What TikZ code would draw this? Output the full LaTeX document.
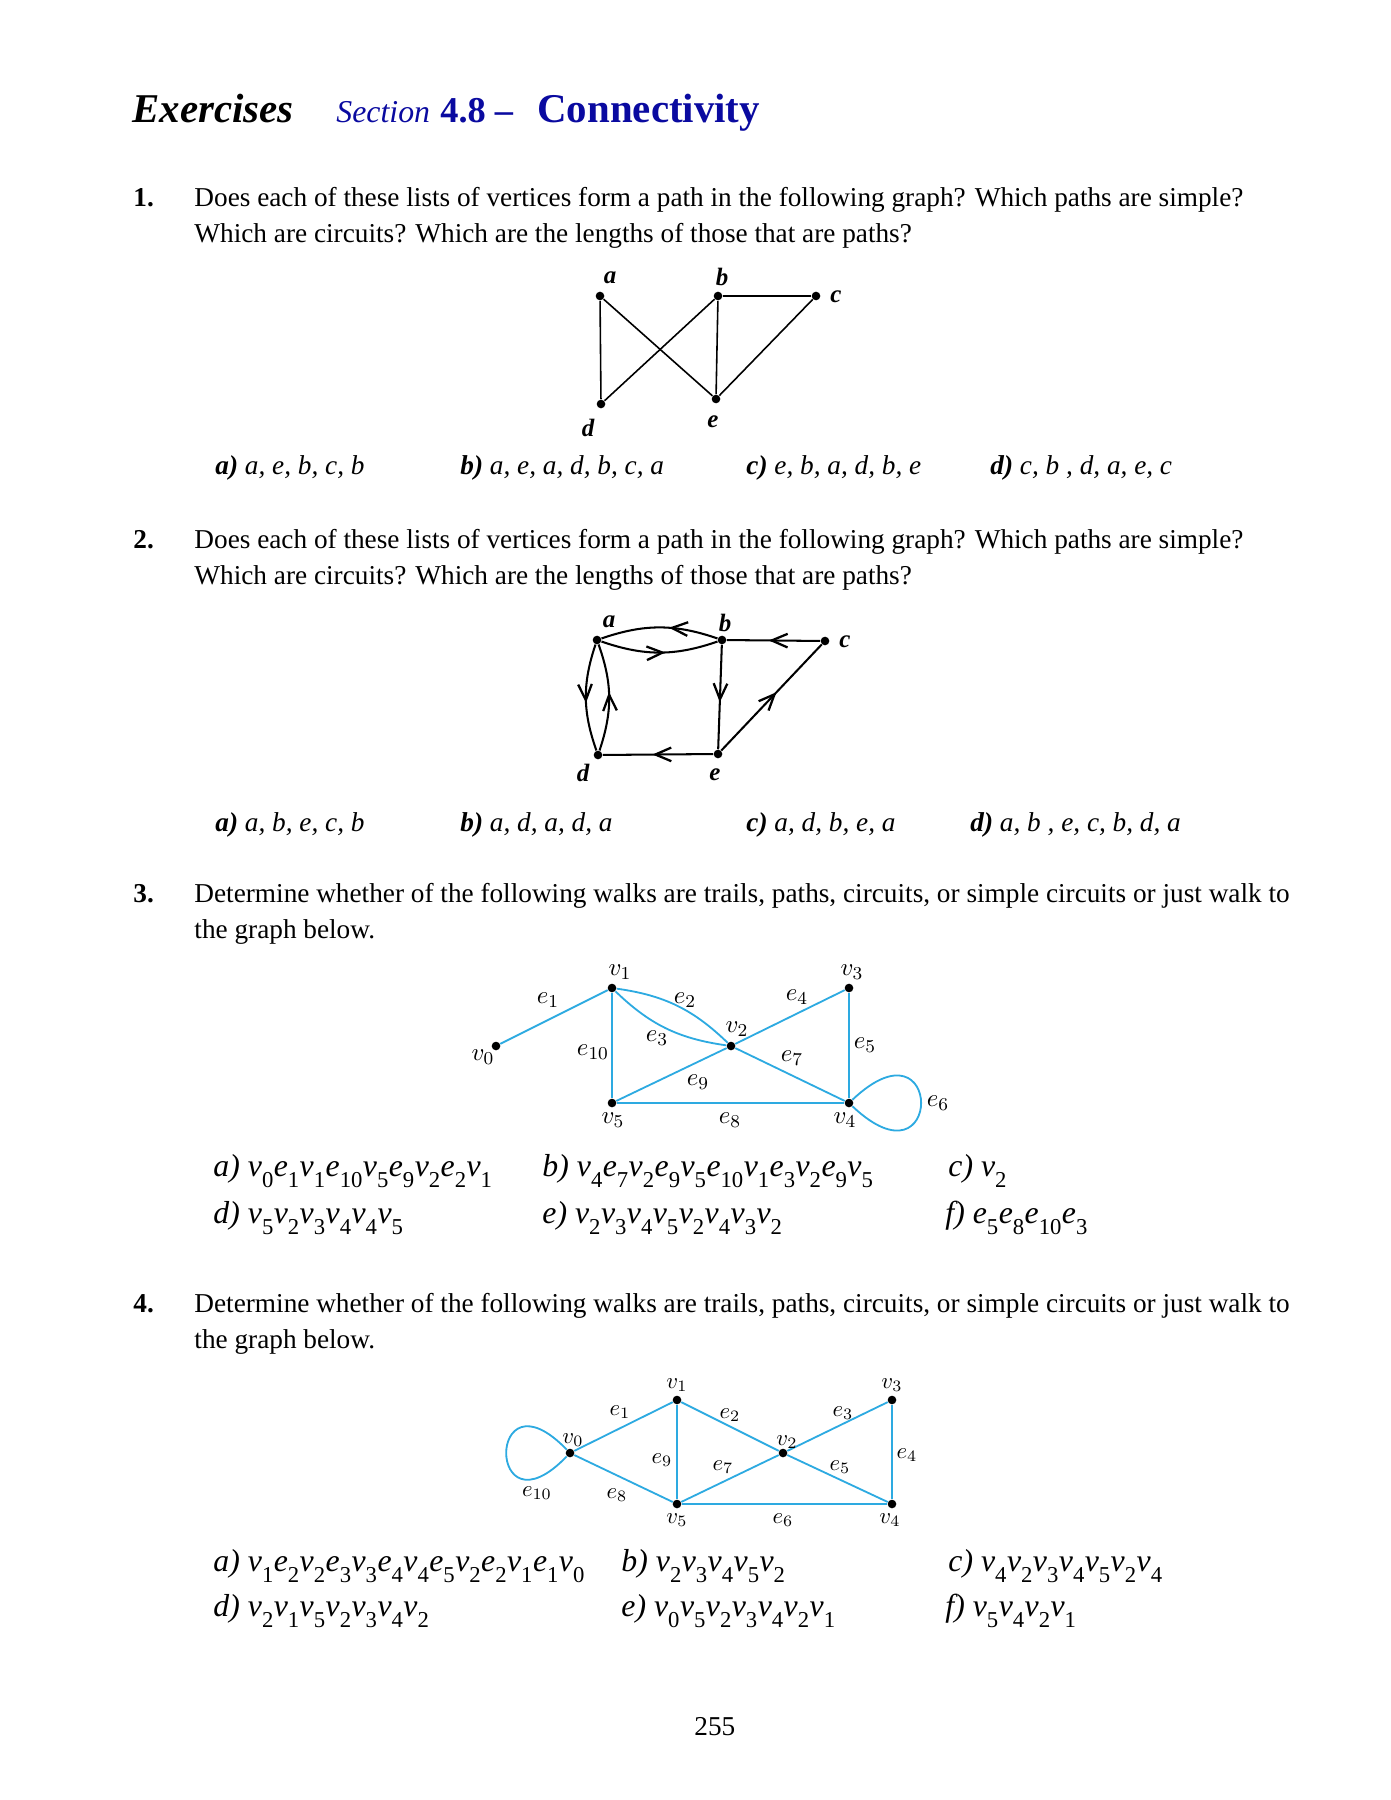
\documentclass[tikz,border=0pt,12pt]{standalone}
\usepackage{fontspec}
\setmainfont{Liberation Serif}
\usetikzlibrary{arrows.meta,decorations.markings}
\definecolor{secblue}{RGB}{10,10,160}
\definecolor{edgeblue}{RGB}{45,170,225}
% letter with a low subscript, as in the walks
\newcommand{\wk}[2]{\textit{#1}\raisebox{-5pt}{\fontsize{10}{10}\selectfont #2}\hspace{0.2pt}}

\begin{document}
\begin{tikzpicture}[x=0.4403pt, y=-0.4403pt,
    dot/.style={circle, fill=black, inner sep=0pt, minimum size=3.8pt},
    vlab/.style={inner sep=0pt, font=\fontsize{11}{11}\selectfont\bfseries\itshape},
    glab/.style={inner sep=0pt, font=\fontsize{11}{11}\selectfont},
    hlab/.style={inner sep=0pt, font=\fontsize{10}{10}\selectfont},
    txt/.style={anchor=base west, inner sep=0pt, font=\fontsize{12}{14}\selectfont},
    walk/.style={anchor=base west, inner sep=0pt, font=\fontsize{14}{16}\selectfont},
    pedge/.style={line width=0.7pt},
    dedge/.style={line width=0.9pt},
    blueedge/.style={draw=edgeblue, line width=0.8pt},
    marrow/.style={postaction={decorate}, decoration={markings,
        mark=at position #1 with {\arrow{Straight Barb[length=7pt,width=6pt,line width=1pt]}}}}]
    \useasboundingbox[fill=white] (0,0) rectangle (1390,1800);
    % Title
    \node[anchor=base west, inner sep=0pt, font=\fontsize{18}{18}\selectfont\bfseries\itshape] (ttl) at (132,123) {Exercises};
    \node[anchor=base west, inner sep=0pt, text=secblue, font=\fontsize{14}{14}\selectfont\itshape] (sec) at (336,123) {Section};
    \node[anchor=base west, inner sep=0pt, text=secblue, font=\fontsize{16}{16}\selectfont\bfseries] (secno) at (440,123) {4.8 --};
    \node[anchor=base west, inner sep=0pt, text=secblue, font=\fontsize{18}{18}\selectfont\bfseries] (conn) at (537,123) {Connectivity};

    % Question 1
    \node[txt, font=\fontsize{12}{14}\selectfont\bfseries] (n1) at (133,207) {1.};
    \node[txt] (t1a) at (194,207) {Does each of these lists of vertices form a path in the following graph? Which paths are simple?};
    \node[txt] (t1b) at (194,243) {Which are circuits? Which are the lengths of those that are paths?};
    \foreach \n/\x/\y in {a/600/296, b/718/296, c/816/296, d/601/404, e/716/399}
        \node[dot] (p\n) at (\x,\y) {};
    \foreach \n/\x/\y in {a/610/278, b/722/277, c/836/297, d/588/428, e/713/422}
        \node[vlab] (lp\n) at (\x,\y) {\n};
    \foreach \s/\t in {a/d, a/e, b/d, b/e, b/c, c/e}
        \draw[pedge] (p\s) -- (p\t);
    \node[txt] (o1a) at (215,475) {\textbf{\textit{a)}} \textit{a, e, b, c, b}};
    \node[txt] (o1b) at (460,475) {\textbf{\textit{b)}} \textit{a, e, a, d, b, c, a}};
    \node[txt] (o1c) at (746,475) {\textbf{\textit{c)}} \textit{e, b, a, d, b, e}};
    \node[txt] (o1d) at (990,475) {\textbf{\textit{d)}} \textit{c, b , d, a, e, c}};

    % Question 2
    \node[txt, font=\fontsize{12}{14}\selectfont\bfseries] (n2) at (133,548) {2.};
    \node[txt] (t2a) at (194,548) {Does each of these lists of vertices form a path in the following graph? Which paths are simple?};
    \node[txt] (t2b) at (194,584) {Which are circuits? Which are the lengths of those that are paths?};
    \foreach \n/\x/\y in {a/597/640, b/722/640, c/825/641, d/598/755, e/718/754}
        \node[dot] (q\n) at (\x,\y) {};
    \foreach \n/\x/\y in {a/609/622, b/725/623, c/845/642, d/583/773, e/715/775}
        \node[vlab] (lq\n) at (\x,\y) {\n};
    \draw[dedge, marrow=0.42] (qb) to[bend right=19] (qa);
    \draw[dedge, marrow=0.55] (qa) to[bend right=19] (qb);
    \draw[dedge, marrow=0.55] (qa) to[bend right=19] (qd);
    \draw[dedge, marrow=0.55] (qd) to[bend right=19] (qa);
    \draw[dedge, marrow=0.55] (qb) -- (qe);
    \draw[dedge, marrow=0.55] (qc) -- (qb);
    \draw[dedge, marrow=0.55] (qe) -- (qc);
    \draw[dedge, marrow=0.55] (qe) -- (qd);
    \node[txt] (o2a) at (215,831) {\textbf{\textit{a)}} \textit{a, b, e, c, b}};
    \node[txt] (o2b) at (460,831) {\textbf{\textit{b)}} \textit{a, d, a, d, a}};
    \node[txt] (o2c) at (746,831) {\textbf{\textit{c)}} \textit{a, d, b, e, a}};
    \node[txt] (o2d) at (970,831) {\textbf{\textit{d)}} \textit{a, b , e, c, b, d, a}};

    % Question 3
    \node[txt, font=\fontsize{12}{14}\selectfont\bfseries] (n3) at (133,902) {3.};
    \node[txt] (t3a) at (194,902) {Determine whether of the following walks are trails, paths, circuits, or simple circuits or just walk to};
    \node[txt] (t3b) at (194,938) {the graph below.};
    \foreach \n/\x/\y in {0/496/1046, 1/612/988, 2/731/1046, 3/849/988, 4/849/1103, 5/612/1103}
        \node[dot] (r\n) at (\x,\y) {};
    \draw[blueedge] (r0) -- (r1);
    \draw[blueedge] (r1) to[bend left=18] (r2);
    \draw[blueedge] (r1) to[bend right=18] (r2);
    \draw[blueedge] (r2) -- (r3);
    \draw[blueedge] (r3) -- (r4);
    \draw[blueedge] (r4) .. controls +(95,-90) and +(95,90) .. (r4);
    \draw[blueedge] (r2) -- (r4);
    \draw[blueedge] (r5) -- (r4);
    \draw[blueedge] (r5) -- (r2);
    \draw[blueedge] (r1) -- (r5);
    \foreach \k/\t/\x/\y in {v1/v_1/620/972, v0/v_0/483/1057, v2/v_2/737/1029, v3/v_3/852/972,
        v4/v_4/845/1120, v5/v_5/613/1120, e1/e_1/548/1000, e2/e_2/685/1000, e3/e_3/657/1038,
        e4/e_4/797/997, e5/e_5/865/1045, e6/e_6/938/1103, e7/e_7/792/1058, e8/e_8/730/1120,
        e9/e_9/698/1082, e10/e_{10}/593/1052}
        \node[glab] (lr\k) at (\x,\y) {$\t$};
    \node[walk] (o3a) at (213,1176) {\textit{a)} \wk{v}{0}\wk{e}{1}\wk{v}{1}\wk{e}{10}\wk{v}{5}\wk{e}{9}\wk{v}{2}\wk{e}{2}\wk{v}{1}};
    \node[walk] (o3b) at (542,1176) {\textit{b)} \wk{v}{4}\wk{e}{7}\wk{v}{2}\wk{e}{9}\wk{v}{5}\wk{e}{10}\wk{v}{1}\wk{e}{3}\wk{v}{2}\wk{e}{9}\wk{v}{5}};
    \node[walk] (o3c) at (948,1176) {\textit{c)} \wk{v}{2}};
    \node[walk] (o3d) at (213,1223) {\textit{d)} \wk{v}{5}\wk{v}{2}\wk{v}{3}\wk{v}{4}\wk{v}{4}\wk{v}{5}};
    \node[walk] (o3e) at (542,1223) {\textit{e)} \wk{v}{2}\wk{v}{3}\wk{v}{4}\wk{v}{5}\wk{v}{2}\wk{v}{4}\wk{v}{3}\wk{v}{2}};
    \node[walk] (o3f) at (945,1223) {\textit{f)} \wk{e}{5}\wk{e}{8}\wk{e}{10}\wk{e}{3}};

    % Question 4
    \node[txt, font=\fontsize{12}{14}\selectfont\bfseries] (n4) at (133,1312) {4.};
    \node[txt] (t4a) at (194,1312) {Determine whether of the following walks are trails, paths, circuits, or simple circuits or just walk to};
    \node[txt] (t4b) at (194,1348) {the graph below.};
    \foreach \n/\x/\y in {0/570/1453, 1/677/1400, 2/783/1453, 3/892/1400, 4/892/1504, 5/677/1504}
        \node[dot] (s\n) at (\x,\y) {};
    \draw[blueedge] (s0) -- (s1);
    \draw[blueedge] (s1) -- (s2);
    \draw[blueedge] (s2) -- (s3);
    \draw[blueedge] (s3) -- (s4);
    \draw[blueedge] (s2) -- (s4);
    \draw[blueedge] (s5) -- (s4);
    \draw[blueedge] (s5) -- (s2);
    \draw[blueedge] (s0) -- (s5);
    \draw[blueedge] (s1) -- (s5);
    \draw[blueedge] (s0) .. controls +(-84,-87) and +(-84,87) .. (s0);
    \foreach \k/\t/\x/\y in {v1/v_1/677/1385, v0/v_0/573/1440, v2/v_2/787/1442, v3/v_3/892/1385,
        v4/v_4/890/1520, v5/v_5/677/1520, e1/e_1/620/1412, e2/e_2/730/1415, e3/e_3/843/1413,
        e4/e_4/907/1455, e5/e_5/840/1467, e6/e_6/783/1520, e7/e_7/723/1467, e8/e_8/617/1495,
        e9/e_9/662/1460, e10/e_{10}/537/1493}
        \node[hlab] (ls\k) at (\x,\y) {$\t$};
    \node[walk] (o4a) at (213,1571) {\textit{a)} \wk{v}{1}\wk{e}{2}\wk{v}{2}\wk{e}{3}\wk{v}{3}\wk{e}{4}\wk{v}{4}\wk{e}{5}\wk{v}{2}\wk{e}{2}\wk{v}{1}\wk{e}{1}\wk{v}{0}};
    \node[walk] (o4b) at (621,1571) {\textit{b)} \wk{v}{2}\wk{v}{3}\wk{v}{4}\wk{v}{5}\wk{v}{2}};
    \node[walk] (o4c) at (948,1571) {\textit{c)} \wk{v}{4}\wk{v}{2}\wk{v}{3}\wk{v}{4}\wk{v}{5}\wk{v}{2}\wk{v}{4}};
    \node[walk] (o4d) at (213,1616) {\textit{d)} \wk{v}{2}\wk{v}{1}\wk{v}{5}\wk{v}{2}\wk{v}{3}\wk{v}{4}\wk{v}{2}};
    \node[walk] (o4e) at (621,1616) {\textit{e)} \wk{v}{0}\wk{v}{5}\wk{v}{2}\wk{v}{3}\wk{v}{4}\wk{v}{2}\wk{v}{1}};
    \node[walk] (o4f) at (945,1616) {\textit{f)} \wk{v}{5}\wk{v}{4}\wk{v}{2}\wk{v}{1}};

    % Page number
    \node[txt] (pg) at (694,1735) {255};
\end{tikzpicture}
\end{document}
